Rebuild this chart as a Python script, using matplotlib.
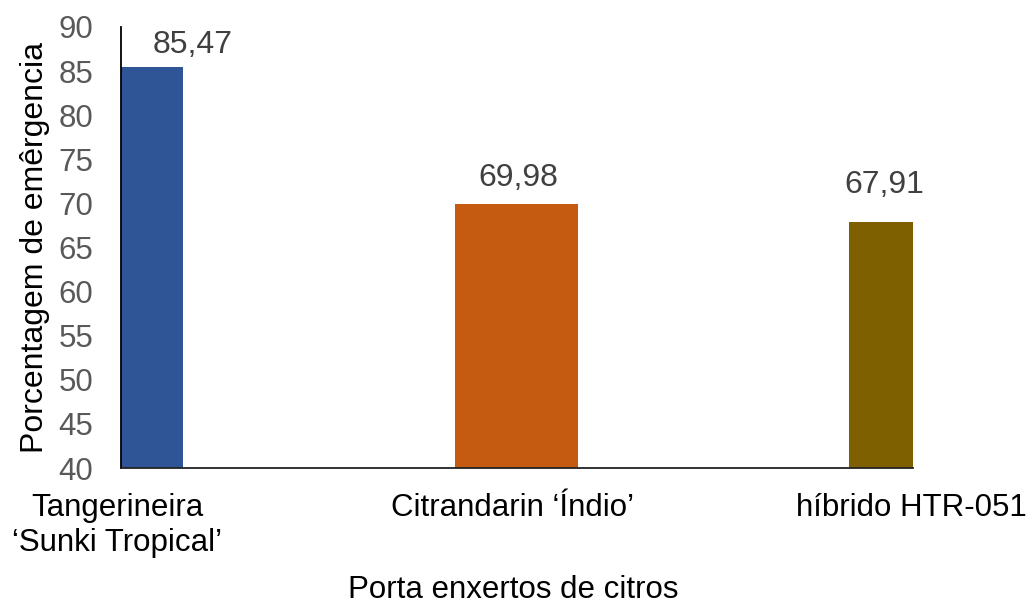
import matplotlib
matplotlib.use("Agg")
import matplotlib.pyplot as plt

categories = ["Tangerineira\n\u2018Sunki Tropical\u2019", "Citrandarin \u2018\u00cdndio\u2019", "h\u00edbrido HTR-051"]
values = [85.47, 69.98, 67.91]
value_labels = ["85,47", "69,98", "67,91"]
colors = ["#2F5597", "#C55A11", "#7F6000"]
bar_widths = [0.17, 0.337, 0.176]
yticks = [40, 45, 50, 55, 60, 65, 70, 75, 80, 85, 90]

plt.rcParams['font.family'] = ['Liberation Sans', 'DejaVu Sans']

W, H = 1030, 603
fig = plt.figure(figsize=(W / 100, H / 100), dpi=100)
ax = fig.add_axes([121 / W, 1 - 468 / H, (913 - 121) / W, (468 - 27) / H])

x = list(range(len(categories)))
ax.bar(x, [v - 40 for v in values], bottom=40, width=bar_widths, color=colors, zorder=2)

ax.set_ylim(40, 90)
ax.set_xlim(x[0] - bar_widths[0] / 2, x[-1] + bar_widths[-1] / 2)
ax.set_yticks(yticks)
ax.set_yticklabels([str(t) for t in yticks])
ax.tick_params(axis='y', length=0, pad=20, labelsize=22.5, labelcolor='#595959')
ax.set_xticks(x)
ax.set_xticklabels([])
ax.tick_params(axis='x', length=0)

for s in ['top', 'right']:
    ax.spines[s].set_visible(False)
ax.spines['left'].set_color('black')
ax.spines['left'].set_linewidth(1.3)
ax.spines['bottom'].set_color('#222222')
ax.spines['bottom'].set_linewidth(1.3)
ax.spines['bottom'].set_zorder(3)

# value labels
lab_dx = [29, 1.5, 2.5]
lab_dy = [10, 13, 21]
for i, (v, t) in enumerate(zip(values, value_labels)):
    ax.annotate(t, xy=(x[i], v), xytext=(lab_dx[i], lab_dy[i]), textcoords='offset points',
                ha='center', va='baseline', fontsize=23, color='#404040')

# category labels
cat_dx = [-25, -3, 22]
for i, c in enumerate(categories):
    ax.annotate(c, xy=(x[i], 0), xycoords=('data', 'axes fraction'),
                xytext=(cat_dx[i], -18), textcoords='offset points',
                ha='center', va='top', fontsize=22.5, color='black',
                linespacing=1.2, multialignment='center', annotation_clip=False)

fig.text(513 / W, 1 - 598 / H, "Porta enxertos de citros", ha='center', va='baseline',
         fontsize=22.5, color='black')
fig.text(43 / W, 1 - 247.5 / H, "Porcentagem de em\u00eargencia",
         rotation=90, ha='center', va='baseline', rotation_mode='anchor',
         fontsize=23, color='black')

fig.savefig("out.png", dpi=100)
